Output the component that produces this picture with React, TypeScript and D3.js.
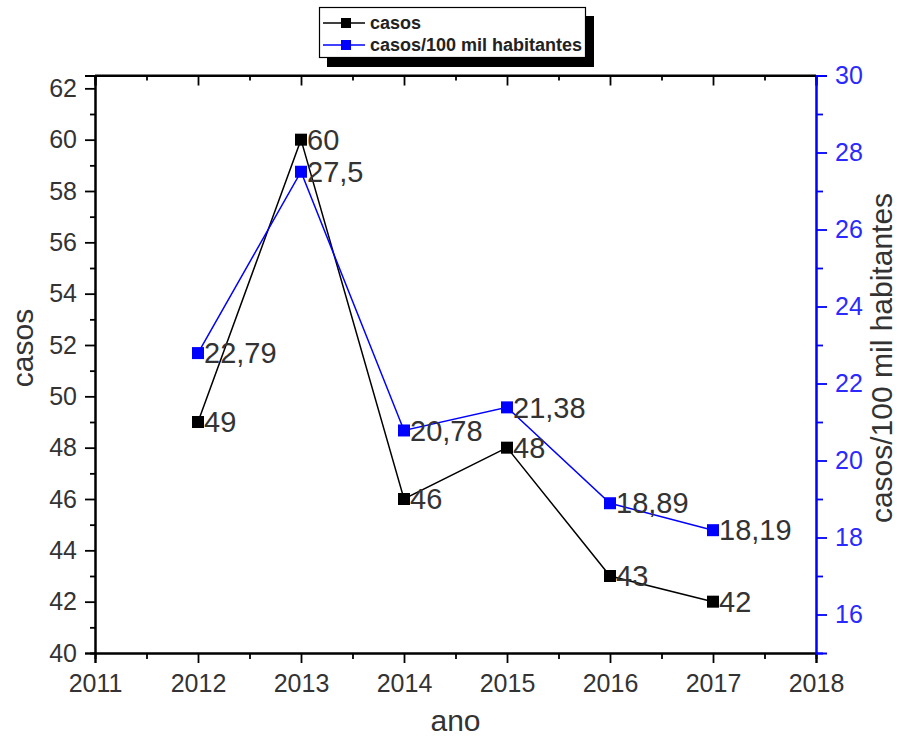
import * as d3 from "d3";
import { useEffect, useRef } from "react";

const years = [2012, 2013, 2014, 2015, 2016, 2017];
const casos = [49, 60, 46, 48, 43, 42];
const taxa = [22.79, 27.5, 20.78, 21.38, 18.89, 18.19];
const taxaLabels = ["22,79", "27,5", "20,78", "21,38", "18,89", "18,19"];
const legendItems = ["casos", "casos/100 mil habitantes"];

export default function App() {
  const ref = useRef<SVGSVGElement>(null);

  useEffect(() => {
    const width = 905;
    const height = 746;
    const left = 95, right = 816, top = 75.5, bottom = 653;
    const font = "Arial, 'Liberation Sans', sans-serif";
    const blue = "#0000ff";

    const svg = d3.select(ref.current);
    svg.selectAll("*").remove();
    svg.attr("width", width).attr("height", height).style("display", "block");

    const x = d3.scaleLinear().domain([2011, 2018]).range([left, right]);
    const yL = d3.scaleLinear().domain([40, 62.5]).range([bottom, top]);
    const yR = d3.scaleLinear().domain([15, 30]).range([bottom, top]);

    const majorX = d3.range(2011, 2019);
    const minorX = d3.range(2011.5, 2018, 1);

    // bottom axis
    const gb = svg.append("g").attr("transform", `translate(0,${bottom})`);
    gb.call(d3.axisBottom(x).tickValues(majorX).tickSize(10).tickFormat(d3.format("d")));
    gb.selectAll(".tick text").attr("font-size", 25).attr("dy", "1.05em").attr("fill", "#333");
    gb.append("g").call(d3.axisBottom(x).tickValues(minorX).tickSize(6).tickFormat(() => ""));

    // top axis (ticks inward)
    const gt = svg.append("g").attr("transform", `translate(0,${top})`);
    gt.call(d3.axisBottom(x).tickValues(majorX).tickSize(10).tickFormat(() => ""));
    gt.append("g").call(d3.axisBottom(x).tickValues(minorX).tickSize(5).tickFormat(() => ""));

    // left axis
    const gl = svg.append("g").attr("transform", `translate(${left},0)`);
    gl.call(d3.axisLeft(yL).tickValues(d3.range(40, 63, 2)).tickSize(10));
    gl.selectAll(".tick text").attr("font-size", 25).attr("fill", "#333").attr("x", -18);
    gl.append("g").call(d3.axisLeft(yL).tickValues(d3.range(41, 62, 2)).tickSize(5).tickFormat(() => ""));

    // right axis
    const gr = svg.append("g").attr("transform", `translate(${right},0)`);
    gr.call(d3.axisRight(yR).tickValues(d3.range(16, 31, 2)).tickSize(11));
    gr.selectAll(".tick text").attr("font-size", 25).attr("fill", "#2a2aff").attr("x", 19);
    gr.append("g").call(d3.axisRight(yR).tickValues(d3.range(17, 30, 2)).tickSize(7).tickFormat(() => ""));
    gr.selectAll("path, line").attr("stroke", blue);

    svg.selectAll(".domain").attr("stroke-width", 2);
    svg.selectAll(".tick line").attr("stroke-width", 1.8);
    svg.selectAll("text").attr("font-family", font);
    gr.select(".domain").attr("stroke", blue);

    // top border line
    svg.append("line").attr("x1", left).attr("x2", right).attr("y1", top).attr("y2", top)
      .attr("stroke", "#000").attr("stroke-width", 2);

    // series lines
    const lineL = d3.line<number>().x((_, i) => x(years[i])).y(d => yL(d));
    const lineR = d3.line<number>().x((_, i) => x(years[i])).y(d => yR(d));
    svg.append("path").attr("d", lineL(casos)).attr("fill", "none").attr("stroke", "#000").attr("stroke-width", 1.5);
    svg.append("path").attr("d", lineR(taxa)).attr("fill", "none").attr("stroke", blue).attr("stroke-width", 1.5);

    const ms = 12;
    svg.append("g").selectAll("rect").data(casos).join("rect")
      .attr("x", (_, i) => x(years[i]) - ms / 2).attr("y", d => yL(d) - ms / 2)
      .attr("width", ms).attr("height", ms).attr("fill", "#000");
    svg.append("g").selectAll("rect").data(taxa).join("rect")
      .attr("x", (_, i) => x(years[i]) - ms / 2).attr("y", d => yR(d) - ms / 2)
      .attr("width", ms).attr("height", ms).attr("fill", blue);

    // data labels
    svg.append("g").selectAll("text").data(casos).join("text")
      .attr("x", (_, i) => x(years[i]) + 6).attr("y", d => yL(d)).attr("dy", "0.35em")
      .attr("font-size", 29).attr("font-family", font).attr("fill", "#333").text(d => String(d));
    svg.append("g").selectAll("text").data(taxa).join("text")
      .attr("x", (_, i) => x(years[i]) + 6).attr("y", d => yR(d)).attr("dy", "0.35em")
      .attr("font-size", 29).attr("font-family", font).attr("fill", "#333").text((_, i) => taxaLabels[i]);

    // axis titles
    svg.append("text").attr("x", (left + right) / 2).attr("y", 731).attr("text-anchor", "middle")
      .attr("font-size", 30).attr("font-family", font).attr("fill", "#333").text("ano");
    svg.append("text").attr("transform", `translate(33,348) rotate(-90)`).attr("text-anchor", "middle")
      .attr("font-size", 30).attr("font-family", font).attr("fill", "#333").text("casos");
    svg.append("text").attr("transform", `translate(871,358) rotate(-90)`).attr("text-anchor", "middle")
      .attr("dy", "0.7em")
      .attr("font-size", 30).attr("font-family", font).attr("fill", "#333").text("casos/100 mil habitantes");

    // legend
    const lg = svg.append("g");
    lg.append("rect").attr("x", 327).attr("y", 16).attr("width", 267).attr("height", 51).attr("fill", "#000");
    lg.append("rect").attr("x", 319.5).attr("y", 7.5).attr("width", 266).attr("height", 50)
      .attr("fill", "#fff").attr("stroke", "#000").attr("stroke-width", 1.2);
    const colors = ["#000", blue];
    legendItems.forEach((t, i) => {
      const cy = 23 + i * 22;
      lg.append("line").attr("x1", 323).attr("x2", 365).attr("y1", cy).attr("y2", cy)
        .attr("stroke", colors[i]).attr("stroke-width", 1.5);
      lg.append("rect").attr("x", 341).attr("y", cy - 5).attr("width", 10).attr("height", 10).attr("fill", colors[i]);
      lg.append("text").attr("x", 370).attr("y", cy).attr("dy", "0.35em")
        .attr("font-size", 18).attr("font-weight", "bold").attr("font-family", font).attr("fill", "#222").text(t);
    });
  }, []);

  return <svg ref={ref} style={{ position: "absolute", left: 0, top: 0 }} />;
}
